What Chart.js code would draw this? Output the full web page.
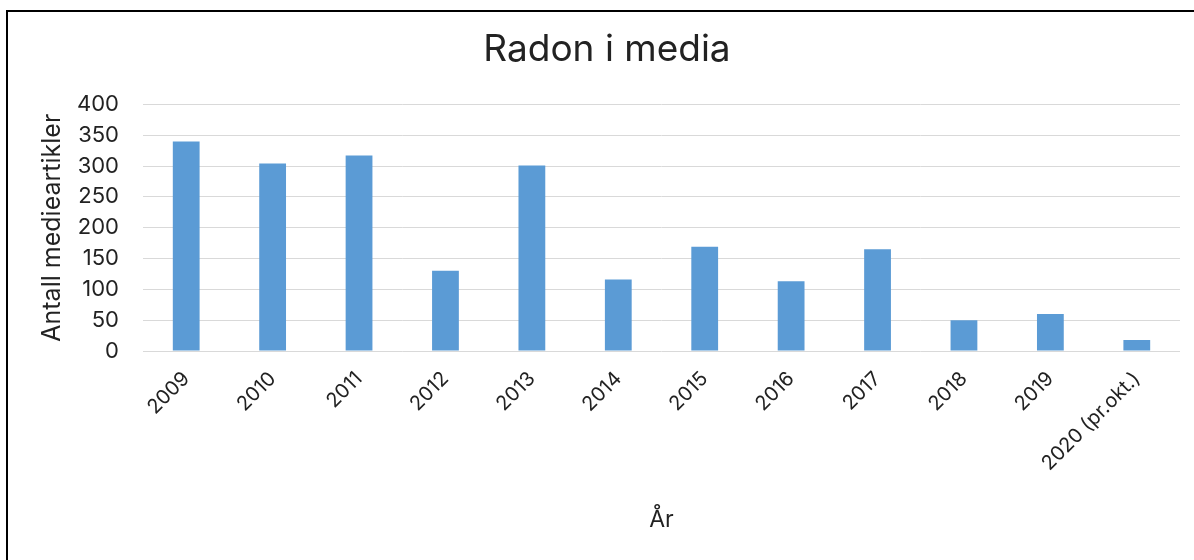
<!DOCTYPE html>
<html lang="no">
<head>
<meta charset="utf-8">
<title>Radon i media</title>
<script src="https://cdn.jsdelivr.net/npm/chart.js@4/dist/chart.umd.min.js"></script>
<style>
  html, body { margin: 0; padding: 0; background: #ffffff; }
  #wrap { position: relative; width: 1194px; height: 560px; overflow: hidden; }
  #frame {
    position: absolute; left: 6px; top: 10px; width: 1300px; height: 700px;
    border-left: 2px solid #000; border-top: 2px solid #000;
    pointer-events: none;
  }
  canvas { display: block; }
</style>
</head>
<body>
<div id="wrap">
  <canvas id="chart" width="1194" height="560"></canvas>
  <div id="frame"></div>
</div>
<script>
// Antall medieartikler om radon per år
const years = ['2009', '2010', '2011', '2012', '2013', '2014', '2015', '2016', '2017', '2018', '2019', '2020 (pr.okt.)'];
const articles = [340, 304, 317, 130, 301, 116, 169, 113, 165, 50, 60, 18];

const chartTitle = 'Radon i media';
const yAxisTitle = 'Antall medieartikler';
const xAxisTitle = 'År';

const FONT = 'Inter, "Noto Sans", "DejaVu Sans", sans-serif';
const TEXT = '#222222';
const GRID = '#d9d9d9';

new Chart(document.getElementById('chart'), {
  type: 'bar',
  data: {
    labels: years,
    datasets: [{
      label: yAxisTitle,
      data: articles,
      backgroundColor: '#5b9bd5',
      borderWidth: 0,
      categoryPercentage: 1,
      barPercentage: 0.31
    }]
  },
  options: {
    responsive: false,
    animation: false,
    layout: { padding: { left: 34, right: 14, top: 0, bottom: 0 } },
    plugins: {
      legend: { display: false },
      tooltip: { enabled: false },
      title: {
        display: true,
        text: chartTitle,
        color: TEXT,
        font: { family: FONT, size: 37, weight: 'normal', lineHeight: 1.2 },
        padding: { top: 28, bottom: 32 }
      }
    },
    scales: {
      y: {
        min: 0,
        max: 400,
        ticks: {
          stepSize: 50,
          color: TEXT,
          padding: 24,
          font: { family: FONT, size: 22 }
        },
        grid: { color: GRID, lineWidth: 1, drawTicks: false },
        border: { display: false },
        title: {
          display: true,
          text: yAxisTitle,
          color: TEXT,
          font: { family: FONT, size: 25, lineHeight: 1.2 },
          padding: { top: 3, bottom: 0 }
        },
        afterFit(scale) { scale.width = 109; }
      },
      x: {
        ticks: {
          color: TEXT,
          minRotation: 45,
          maxRotation: 45,
          padding: 16,
          autoSkip: false,
          font: { family: FONT, size: 20 }
        },
        grid: { display: false, drawTicks: false },
        border: { display: false },
        title: {
          display: true,
          text: xAxisTitle,
          color: TEXT,
          font: { family: FONT, size: 23, lineHeight: 1.2 },
          padding: { top: 0, bottom: 26 }
        },
        afterFit(scale) { scale.height = 209; }
      }
    }
  }
});
</script>
</body>
</html>
